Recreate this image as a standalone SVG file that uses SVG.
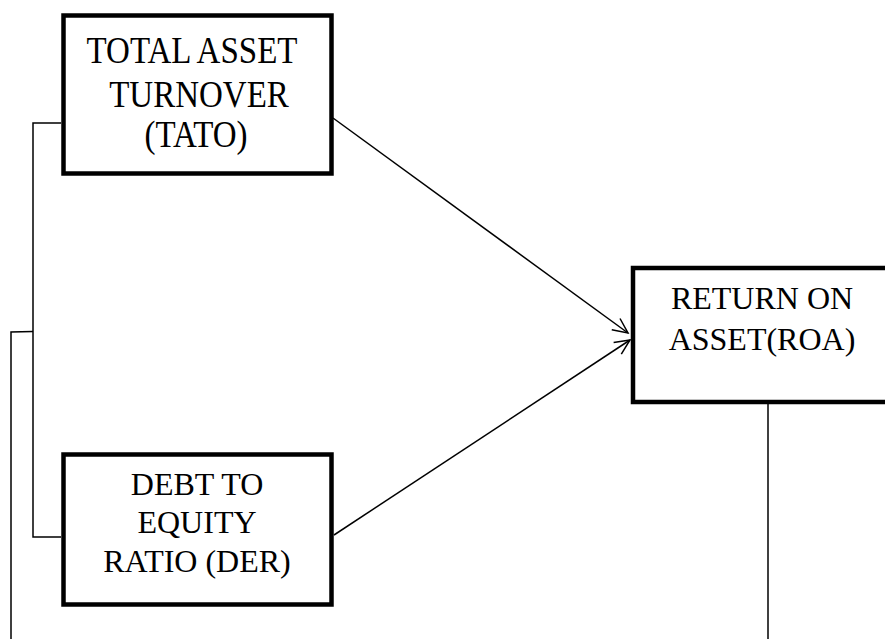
<svg xmlns="http://www.w3.org/2000/svg" width="885" height="639" viewBox="0 0 885 639">
<style>
.box{fill:#fff;stroke:#000;stroke-width:4.5}
.t{font-family:"Liberation Serif","Times New Roman",serif;font-size:32px;fill:#000;text-anchor:middle}
.tt{font-size:33px}
.c{fill:none;stroke:#000;stroke-width:1.5}
</style>
<defs>
<marker id="ah" markerWidth="20" markerHeight="20" refX="16" refY="8" orient="auto" markerUnits="userSpaceOnUse">
<path d="M1,1 L16,8 L1,15" fill="none" stroke="#000" stroke-width="1.5"/>
</marker>
</defs>
<rect width="885" height="639" fill="#fff"/>
<g id="connectors">
<polyline class="c" points="61,123 33,123 33,537 61,537"/>
<polyline class="c" points="33,331.5 11,332 11,639"/>
<line class="c" x1="333" y1="118" x2="628" y2="333" marker-end="url(#ah)"/>
<line class="c" x1="334" y1="535" x2="630" y2="340" marker-end="url(#ah)"/>
<line class="c" x1="768" y1="404" x2="768" y2="639"/>
</g>
<g id="tato">
<rect class="box" x="63.5" y="15.5" width="268" height="158"/>
<text class="t tt" x="192" y="63" transform="translate(0,-9.45) scale(1,1.15)">TOTAL ASSET</text>
<text class="t tt" x="199" y="107" transform="translate(0,-16.05) scale(1,1.15)">TURNOVER</text>
<text class="t tt" x="196" y="147" transform="translate(0,-22.05) scale(1,1.15)">(TATO)</text>
</g>
<g id="der">
<rect class="box" x="63.5" y="454.5" width="268" height="150"/>
<text class="t" x="197" y="495">DEBT TO</text>
<text class="t" x="197" y="533">EQUITY</text>
<text class="t" x="197" y="572">RATIO (DER)</text>
</g>
<g id="roa">
<rect class="box" x="633" y="268" width="270" height="134"/>
<text class="t" x="762" y="309">RETURN ON</text>
<text class="t" x="762" y="350">ASSET(ROA)</text>
</g>
</svg>
